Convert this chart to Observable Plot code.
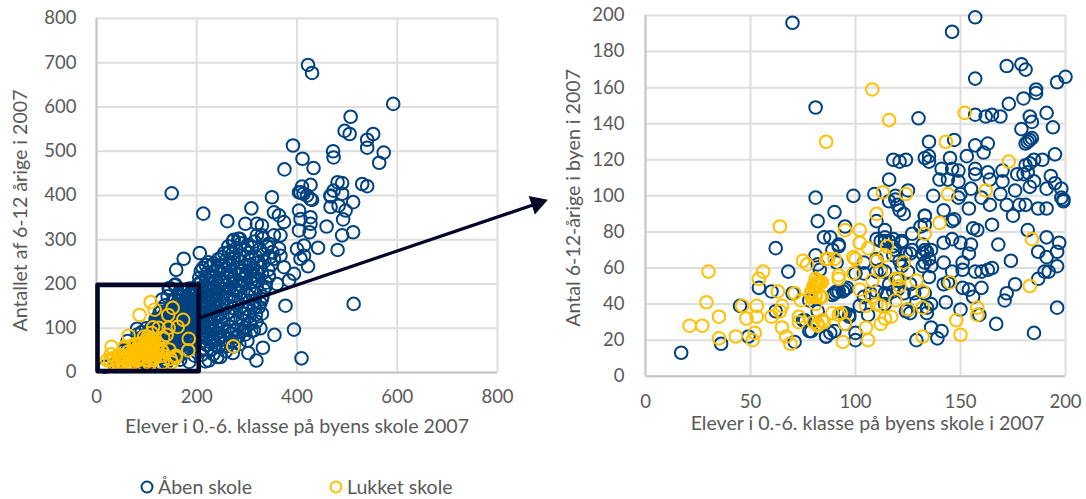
<!DOCTYPE html>
<html>
<head>
<meta charset="utf-8">
<script src="https://cdn.jsdelivr.net/npm/d3@7"></script>
<script src="https://cdn.jsdelivr.net/npm/@observablehq/plot@0.6"></script>
<style>
html,body{margin:0;padding:0;background:#fff}
#page{position:relative;width:1086px;height:499px;overflow:hidden;font-family:Lato,sans-serif;color:#595959}
#left,#right{position:absolute;top:0}
#left{left:0}
#right{left:560px}
.key{position:absolute;top:475px;font-size:19.5px;line-height:24px;white-space:nowrap}
.key svg{position:absolute;top:4px}
</style>
</head>
<body>
<div id="page">
  <div id="right"></div>
  <div id="left"></div>
  <div class="key" style="left:139px"><svg width="16" height="16" style="left:0"><circle cx="8" cy="8" r="5.5" fill="none" stroke="#00427F" stroke-width="2"/></svg><span style="margin-left:19px">Åben skole</span></div>
  <div class="key" style="left:328px"><svg width="16" height="16" style="left:0"><circle cx="8" cy="8" r="5.5" fill="none" stroke="#FFC000" stroke-width="2"/></svg><span style="margin-left:19px">Lukket skole</span></div>
</div>
<script>
const seriesOpen = "Åben skole";
const seriesClosed = "Lukket skole";
const leftXLabel = "Elever i 0.-6. klasse på byens skole 2007";
const leftYLabel = "Antallet af 6-12 årige i 2007";
const rightXLabel = "Elever i 0.-6. klasse på byens skole i 2007";
const rightYLabel = "Antal 6-12-årige i byen i 2007";
const leftTicks = [0,100,200,300,400,500,600,700,800];
const leftXTicks = [0,200,400,600,800];
const rightYTicks = [0,20,40,60,80,100,120,140,160,180,200];
const rightXTicks = [0,50,100,150,200];

// Schools visible only in the right panel
const rightOnlyOpen = [[70,196],[81,149]];
// Schools with x <= 200 and y <= 200: appear in both panels
const zoomOpen = [
[157,199],[146,191],[157,165],[172,172],[179,173],[181,170],[200,166],[196,163],[186,159],[186,157],[180,154],[173,151],[157,145],[162,144],[165,145],[169,144],[191,146],[183,144],[184,141],[194,138],[179,137],[184,132],[183,131],[181,129],[182,130],[130,143],[147,131],[135,130],[157,128],[163,129],[161,124],[153,122],[195,123],[145,121],[135,122],[133,121],[135,119],[118,120],[121,119],[124,120],[189,120],[185,120],[183,118],[181,117],[141,115],[146,115],[149,114],[157,115],[157,112],[163,113],[170,114],[177,112],[180,112],[182,113],[193,111],[185,108],[183,105],[191,104],[195,107],[198,104],[116,109],[140,109],[144,109],[149,108],[170,108],[176,103],[155,104],[164,109],[109,101],[99,100],[169,101],[137,100],[150,101],[81,99],[125,103],[199,98],[198,99],
[82,86],[90,91],[119,98],[120,95],[121,92],[123,90],[142,92],[154,93],[149,99],[160,99],[164,95],[172,95],[175,89],[178,95],[181,95],[187,93],[191,93],[199,97],[133,89],[165,84],[156,82],[158,81],[182,81],[191,77],[197,74],[187,69],[196,69],[191,66],[168,73],[174,64],[155,73],[154,68],[142,63],[151,63],[151,59],[146,58],[157,58],[160,58],[163,59],[165,60],[196,61],[192,58],[190,58],[187,54],[176,51],[172,46],[171,42],[160,49],[151,49],[154,48],[156,44],[142,51],[144,52],[143,41],[150,37],[136,40],[196,38],[159,34],[167,29],[185,24],[136,27],[141,25],[139,21],[129,20],[100,24],[100,20],[86,22],[88,24],
[114,81],[112,75],[114,77],[116,75],[118,72],[122,75],[127,79],[131,83],[133,84],[146,86],[147,87],[142,74],[146,76],[150,74],[136,70],[133,70],[132,68],[135,65],[132,61],[136,61],[135,55],[127,70],[124,68],[119,70],[122,61],[110,65],[112,59],[104,57],[104,63],[95,83],[85,77],[88,77],[89,70],[92,73],[92,47],[95,48],[90,46],[96,49],[102,39],[97,33],[95,35],[128,46],[124,36],[126,35],[134,35],[116,51],[120,48],[115,45],
[17,13],[36,18],[45,39],[49,22],[54,49],[60,47],[62,71],[68,58],[70,46],[62,36],[71,19],[81,67],[82,62],[83,59],[76,31],[78,25],[86,22],[82,36],[78,42],
[92,72],[91,63],[91,47],[94,47],[89,45],[100,57],[107,46],[110,47],[114,46],[114,58],[110,64],[110,86],[114,75],[110,76],[118,76],[122,74],[132,73],[134,69],[133,63],[126,68],[121,64],[118,67],[125,58],[120,53],[126,51],[133,46],[125,37],[134,38],[114,40],[106,34],[94,35],[97,34],[95,29],[116,97],[119,100],[133,89],[110,58],[104,44],[118,47],[123,46],[129,41],[75,31],[79,25],[90,25]
];
const zoomClosed = [
[108,159],[116,142],[86,130],[152,146],[143,130],[173,119],[113,102],[124,101],[144,101],[162,103],
[110,90],[95,81],[102,81],[102,74],[106,71],[115,72],[114,67],[110,64],[100,65],[99,66],[87,65],[90,65],[92,54],[92,56],[99,57],[112,58],[108,53],[123,63],[133,79],[140,85],[184,76],[183,50],[145,52],[129,53],[121,54],[119,54],[121,50],[132,47],[102,48],[108,44],[105,39],[112,39],[119,42],[110,40],[117,33],[114,32],[112,29],[105,27],[106,20],[94,19],[95,29],[89,35],[92,34],[93,35],[125,37],[132,38],[132,22],[158,38],[158,34],[148,31],[150,23],[84,31],[82,28],[84,44],[81,44],[83,52],[81,51],
[64,83],[30,58],[56,58],[54,54],[29,41],[21,28],[27,28],[35,33],[35,21],[43,22],[46,39],[53,39],[48,32],[53,33],[52,24],[51,20],[63,47],[71,46],[60,33],[64,36],[65,39],[65,27],[67,22],[69,18],[73,33],[73,30],[75,64],[77,62],[74,42],[79,47],[79,44],[81,54],[82,51],[84,52],[81,40],[80,30],[82,29],[85,30],[86,65],[83,44],[80,50],[81,49],[82,53],[79,46],[81,45]
];
// Schools outside the 200 x 200 window: appear only in the left panel
const outerOpen = [
[422,695],[430,677],[592,607],[507,578],[495,546],[505,539],[552,539],[540,526],[540,508],[573,497],[564,474],[392,513],[411,483],[433,462],[375,459],[472,500],[473,486],[481,430],[490,428],[530,426],[540,421],[410,420],[427,424],[404,407],[413,404],[427,392],[467,398],[473,411],[490,404],[512,385],
[150,405],[213,359],[261,342],[309,371],[350,396],[297,336],[320,336],[330,332],[354,362],[364,355],[374,340],[404,366],[407,347],[427,351],[404,321],[425,317],[427,336],[459,330],[490,310],[512,317],[492,346],[497,366],[467,374],[483,377],[467,400],[430,390],[407,407],[420,400],[442,282],[481,277],[400,279],[414,287],[414,264],[407,257],[422,240],[394,223],[377,151],[513,155],[206,270],[274,300],[286,302],[320,310],[330,310],[354,310],[367,310],[364,280],[367,264],[354,257],[374,238],[360,200],[384,208],[337,193],[330,166],[324,148],[330,133],[294,133],[307,110],[314,95],[294,95],[274,95],[261,95],[247,80],[234,72],[221,80],[301,72],[281,80],[327,100],[355,85],[394,97],[332,56],[303,44],[319,27],[409,32],[217,25],[224,27],[241,35],[247,35],[274,59],[174,257],[159,232],[156,197],[144,189],[223,249],[228,241],[265,272],[250,261],[283,302],
[272,297],[288,292],[301,288],[315,296],[332,303],[344,291],[263,285],[279,281],[296,277],[310,283],[326,279],[341,284],[351,272],[255,270],[271,268],[286,264],[303,270],[318,262],[333,267],[346,260],[243,256],[258,253],[274,258],[289,250],[305,255],[320,248],[335,251],[349,244],[218,243],[234,246],[249,240],[265,243],[281,237],[296,241],[312,234],[327,238],[343,232],[208,229],[222,226],[238,231],[252,224],[268,228],[284,221],[299,226],[315,219],[330,223],[344,217],[205,214],[219,210],[233,216],[248,209],[263,213],[278,206],[293,211],[308,204],[323,208],[338,203],[203,199],[216,196],[231,201],[245,194],[260,198],[275,191],[290,196],[305,189],[320,193],[334,187],[201,184],[214,180],[229,186],[243,179],[258,183],[272,176],[287,181],[302,174],[317,178],[331,172],[202,168],[216,165],[230,170],[245,163],[259,168],[274,161],[288,165],[303,158],[316,162],[327,157],[203,152],[217,149],[232,155],[246,147],[260,152],[275,145],[289,150],[303,143],[315,147],[204,136],[218,133],[233,139],[247,131],[262,136],[276,129],[290,134],[305,127],[318,131],[206,120],[220,117],[234,123],[249,115],[263,120],[278,113],[292,118],[306,111],[319,115],[208,104],[222,101],[237,107],[251,99],[265,104],[280,97],[296,102],[309,94],[210,88],[225,85],[240,91],[254,83],[268,88],[283,81],[297,86],[212,72],[227,69],[242,75],[256,66],[271,71],[285,64],[214,55],[229,52],[244,58],[258,48],[272,44],[210,40],[233,41],[262,60],
[212,236],[226,219],[241,238],[256,232],[273,249],[291,229],[307,243],[322,226],[209,206],[224,203],[238,208],[253,203],[268,220],[283,199],[298,218],[313,211],[207,191],[222,188],[236,193],[251,188],[266,205],[281,184],[296,203],[208,176],[222,172],[237,177],[252,172],[266,190],[209,160],[223,157],[238,162],[252,156],[211,144],[225,141],[239,146],[212,128],[227,125],[241,130],[214,111],[229,109],[216,95],[231,93],[218,78],[233,76],[220,62],[237,62],
[131,165],[142,172],[152,162],[163,178],[173,185],[184,176],[192,190],[137,152],[148,143],[159,155],[169,163],[178,150],[188,166],[195,155],[126,135],[141,128],[152,135],[165,142],[175,131],[186,141],[194,128],[120,108],[128,112],[138,105],[154,118],[167,124],[178,119],[190,132],[193,176],[197,186],[185,190]
];
const outerClosed = [[273,59]];

const blue = "#00427F", yellow = "#FFC000", gridColor = "#dedede", axisColor = "#c6c6c6", ink = "#05052a", textColor = "#595959";
const points = a => a.map(([x, y]) => ({x, y}));
const dots = (data, color) => Plot.dot(points(data), {x: "x", y: "y", r: 6.3, stroke: color, strokeWidth: 2, fill: "none"});
const base = {style: {fontFamily: "Lato, sans-serif", fontSize: "18.5px", color: textColor, background: "transparent", overflow: "visible"}};
const axisTitle = {fill: textColor, fontSize: 19.6};

const leftPlot = Plot.plot({
  ...base, width: 560, height: 440, marginLeft: 96, marginRight: 63, marginTop: 18, marginBottom: 68,
  x: {domain: [0, 800], label: null},
  y: {domain: [0, 800], label: null},
  marks: [
    Plot.gridY(leftTicks, {stroke: gridColor, strokeOpacity: 1, strokeWidth: 2}),
    Plot.gridX(leftXTicks, {stroke: gridColor, strokeOpacity: 1, strokeWidth: 2}),
    Plot.ruleX([0], {stroke: axisColor, strokeWidth: 2}),
    Plot.ruleY([0], {stroke: axisColor, strokeWidth: 2}),
    Plot.axisY(leftTicks, {tickSize: 0, tickPadding: 20, label: null}),
    Plot.axisX(leftXTicks, {tickSize: 0, tickPadding: 17, label: null}),
    dots([...zoomOpen, ...outerOpen], blue),
    dots([...zoomClosed, ...outerClosed], yellow),
    Plot.rect([{x1: 3, x2: 205, y1: 2, y2: 197}], {x1: "x1", x2: "x2", y1: "y1", y2: "y2", fill: "none", stroke: ink, strokeWidth: 4.6, strokeLinejoin: "round"}),
    Plot.link([{x1: 207, y1: 124, x2: 872, y2: 379}], {x1: "x1", y1: "y1", x2: "x2", y2: "y2", stroke: ink, strokeWidth: 3.2}),
    Plot.dot([{x: 879, y: 382}], {x: "x", y: "y", symbol: "triangle", r: 6.6, rotate: 71.4, fill: ink, stroke: ink, strokeWidth: 1}),
    Plot.text([leftXLabel], {...axisTitle, frameAnchor: "bottom", dy: 60}),
    Plot.text([leftYLabel], {...axisTitle, frameAnchor: "left", textAnchor: "middle", rotate: -90, dx: -76, dy: 15})
  ]
});
document.getElementById("left").append(leftPlot);

const rightPlot = Plot.plot({
  ...base, width: 526, height: 440, marginLeft: 85, marginRight: 21, marginTop: 15, marginBottom: 64.3,
  x: {domain: [0, 200], label: null},
  y: {domain: [0, 200], label: null},
  marks: [
    Plot.gridY(rightYTicks, {stroke: gridColor, strokeOpacity: 1, strokeWidth: 2}),
    Plot.gridX(rightXTicks, {stroke: gridColor, strokeOpacity: 1, strokeWidth: 2}),
    Plot.ruleX([0], {stroke: axisColor, strokeWidth: 2}),
    Plot.ruleY([0], {stroke: axisColor, strokeWidth: 2}),
    Plot.axisY(rightYTicks, {tickSize: 0, tickPadding: 21, label: null}),
    Plot.axisX(rightXTicks, {tickSize: 0, tickPadding: 19, label: null}),
    dots([...rightOnlyOpen, ...zoomOpen], blue),
    dots(zoomClosed, yellow),
    Plot.text([rightXLabel], {...axisTitle, frameAnchor: "bottom", dx: 12, dy: 54}),
    Plot.text([rightYLabel], {...axisTitle, frameAnchor: "left", textAnchor: "middle", rotate: -90, dx: -72, dy: 2})
  ]
});
document.getElementById("right").append(rightPlot);
</script>
</body>
</html>
